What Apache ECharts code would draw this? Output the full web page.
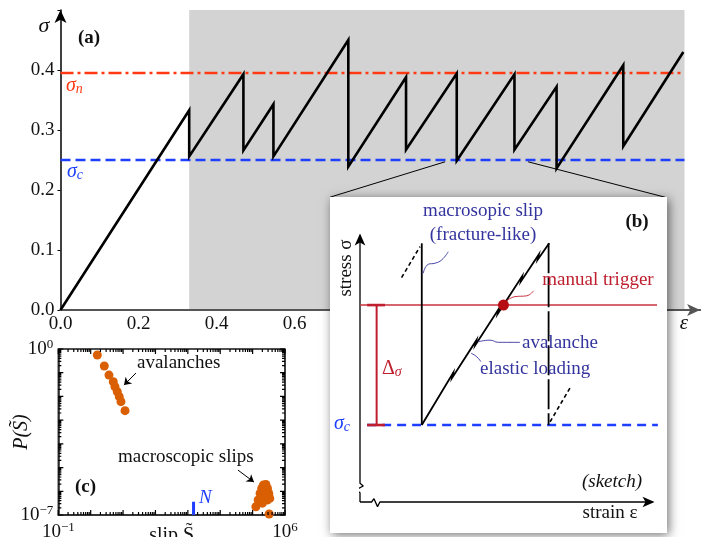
<!DOCTYPE html>
<html>
<head>
<meta charset="utf-8">
<script src="https://cdn.jsdelivr.net/npm/echarts@6/dist/echarts.min.js"></script>
<style>
html, body { margin: 0; padding: 0; background: #fff; }
#chart { width: 709px; height: 537px; }
</style>
</head>
<body>
<div id="chart"></div>
<script>
// ---------- (a) stress–strain curve under slow driving ----------
const strain = [0, 0.330, 0.330, 0.469, 0.469, 0.546, 0.546, 0.738, 0.738, 0.886, 0.886,
                1.016, 1.016, 1.164, 1.164, 1.272, 1.272, 1.443, 1.443, 1.597];
const stress = [0, 0.333, 0.256, 0.393, 0.266, 0.343, 0.256, 0.450, 0.239, 0.388, 0.267,
                0.394, 0.249, 0.393, 0.267, 0.372, 0.236, 0.408, 0.273, 0.430];
const sigmaN = 0.395;           // nucleation stress
const sigmaC = 0.25;            // critical (arrest) stress
const steadyRange = [0.33, 1.6];
const zoomWindow = [0.986, 1.199]; // part of the curve expanded in (b)

// ---------- (b) sketch, arbitrary units (strain 0–100, stress 0–100) ----------
const sketchStressAxis = [[0, 0], [0, 3.4], [-1.35, 4.4], [1.1, 5.9], [0, 6.9], [0, 98]];
const sketchStrainAxis = [[0, 0], [3.9, 0], [4.7, 1.2], [5.9, -1.7], [6.7, 0], [98.5, 0]];
const sketchLoading = [[20.8, 28.3], [31.37, 47.5], [31.0, 45.6], [39.2, 59.5], [38.8, 57.6],
                       [46.75, 71.0], [46.35, 69.1], [54.58, 83.0], [54.18, 81.1],
                       [60.21, 91.0], [59.81, 89.1], [63.7, 95.1]];
const sketchSlipA = [[20.8, 95.1], [20.8, 28.3]];
const sketchSlipB = [[63.5, 95.1], [63.5, 28.3]];
const sketchPreLoad = [[14.0, 82.5], [20.2, 93.9]];
const sketchPostLoad = [[64.0, 29.5], [70.7, 41.9]];
const sketchTrigger = 72.4;
const sketchCritical = 28.3;
const sketchTriggerPoint = [48.3, 72.4];
const bracketX = 5.6, bracketCap = [2.4, 8.4];
const leaderSlip = [[21.3, 84.1], [23.0, 87.4], [25.3, 87.8], [27.5, 89.0], [29.7, 92.0]];
const leaderTrigger = [[48.8, 73.4], [52.2, 75.5], [56.1, 75.8], [58.4, 77.6]];
const leaderAvalanche = [[39.8, 58.9], [43.8, 59.5], [46.6, 58.7], [53.9, 58.7]];
const leaderElastic = [[37.4, 54.7], [39.3, 53.4], [40.7, 51.6]];

// ---------- (c) slip size distribution ----------
const avalancheSlip = [1.60, 2.63, 3.67, 4.99, 5.62, 6.62, 7.64, 8.61, 11.5];
const avalancheProb = [0.558, 0.192, 0.0794, 0.0417, 0.0257, 0.0158, 0.00977, 0.00603, 0.00251];
const macroSlip = [1.26e5, 1.48e5, 1.70e5, 1.91e5, 2.14e5, 2.57e5, 2.88e5, 3.16e5, 3.39e5,
                   2.82e5, 2.40e5, 2.00e5, 2.29e5, 2.69e5, 3.24e5];
const macroProb = [2.24e-7, 4.27e-7, 8.13e-7, 1.32e-6, 1.82e-6, 1.95e-6, 1.32e-6, 8.13e-7, 5.01e-7,
                   4.27e-7, 4.57e-7, 3.16e-7, 1.0e-6, 7.9e-7, 1.10e-7];
const systemSizeN = 1500;
const slipDecades = [-1, 6];
const probDecades = [-7, 0];
const slipRange = [Math.pow(10, slipDecades[0]), Math.pow(10, slipDecades[1])];
const probRange = [Math.pow(10, probDecades[0]), Math.pow(10, probDecades[1])];

const SERIF = '"Liberation Serif", "DejaVu Serif", serif';
const RED = '#ff3a12', BLUE = '#1f3fff', ORANGE = '#d95f02';
const DARKRED = '#be1e2d', INDIGO = '#34349e';

const pairs = (xs, ys) => xs.map((x, i) => [x, ys[i]]);

// Inward decade / sub-decade ticks on all four edges of the (c) frame, as one broken
// polyline in data space; tick lengths are multiplicative steps along each log axis.
const stepAlongY = { major: 1.63, minor: 1.34 };
const stepAlongX = { major: 1.43, minor: 1.24 };
const frameTickPath = [];
for (let e = slipDecades[0]; e <= slipDecades[1]; e++) {
  for (let m = 1; m < 10; m++) {
    if (e === slipDecades[1] && m > 1) break;
    const v = m * Math.pow(10, e), f = m === 1 ? stepAlongY.major : stepAlongY.minor;
    frameTickPath.push([v, probRange[0]], [v, probRange[0] * f], [v, NaN]);
    frameTickPath.push([v, probRange[1]], [v, probRange[1] / f], [v, NaN]);
  }
}
for (let e = probDecades[0]; e <= probDecades[1]; e++) {
  for (let m = 1; m < 10; m++) {
    if (e === probDecades[1] && m > 1) break;
    const v = m * Math.pow(10, e), f = m === 1 ? stepAlongX.major : stepAlongX.minor;
    frameTickPath.push([slipRange[0], v], [slipRange[0] * f, v], [NaN, v]);
    frameTickPath.push([slipRange[1], v], [slipRange[1] / f, v], [NaN, v]);
  }
}

function powLabel(v, shown) {
  const e = Math.round(Math.log10(v));
  if (shown.indexOf(e) < 0) return '';
  return '{b|10}{e|' + (e < 0 ? '\u2212' + (-e) : e) + '}';
}
const powRich = {
  b: { fontFamily: SERIF, fontSize: 19, color: '#111', lineHeight: 22 },
  e: { fontFamily: SERIF, fontSize: 13, color: '#111', lineHeight: 12, verticalAlign: 'top' }
};

const sketchLine = (data, extra) => Object.assign({
  type: 'line', xAxisIndex: 2, yAxisIndex: 2, data: data, symbol: 'none', clip: false,
  z: 12, silent: true, lineStyle: { color: '#000', width: 1.8 }
}, extra || {});

const frameLine = (data, color, width) => ({
  type: 'line', xAxisIndex: 1, yAxisIndex: 1, data: data, symbol: 'none', clip: false,
  connectNulls: false, z: 6, silent: true, lineStyle: { color: color, width: width, opacity: 1 }
});

const txt = (x, y, text, opts) => ({
  type: 'text', x: x, y: y, z: (opts && opts.z) || 20, rotation: (opts && opts.rotation) || 0,
  style: Object.assign({
    text: text, fill: '#111', font: '19px ' + SERIF, align: 'center', verticalAlign: 'middle'
  }, (opts && opts.style) || {})
});

const option = {
  animation: false,
  backgroundColor: '#fff',
  grid: [
    { left: 60.5, top: 10, width: 639.6, height: 300, outerBoundsMode: 'none', containLabel: false },
    { left: 58.3, top: 349, width: 226.7, height: 166, outerBoundsMode: 'none', containLabel: false,
      show: true, borderColor: '#444', borderWidth: 1.6, backgroundColor: 'rgba(0,0,0,0)' },
    { left: 360, top: 230, width: 297, height: 272, outerBoundsMode: 'none', containLabel: false }
  ],
  xAxis: [
    {
      gridIndex: 0, type: 'value', min: 0, max: 1.64, interval: 0.2, z: 3,
      axisLine: { lineStyle: { color: '#555', width: 2.2 }, symbol: ['none', 'arrow'], symbolSize: [9, 13] },
      axisTick: { show: false }, splitLine: { show: false },
      axisLabel: { formatter: v => (v < 1.5 ? v.toFixed(1) : ''), color: '#111', fontFamily: SERIF, fontSize: 19, margin: 5 }
    },
    {
      gridIndex: 1, type: 'log', logBase: 10, min: slipRange[0], max: slipRange[1],
      axisLine: { show: true, onZero: false, lineStyle: { color: '#222', width: 1.5 } },
      axisTick: { show: false }, splitLine: { show: false },
      axisLabel: { formatter: v => powLabel(v, slipDecades), rich: powRich, margin: 6, showMinLabel: true, showMaxLabel: true },
      name: 'slip S\u0303', nameLocation: 'middle', nameGap: 11, nameMoveOverlap: false,
      nameTextStyle: { fontFamily: SERIF, fontSize: 20, color: '#111', verticalAlign: 'top' }
    },
    { gridIndex: 2, type: 'value', min: 0, max: 100, show: false }
  ],
  yAxis: [
    {
      gridIndex: 0, type: 'value', min: 0, max: 0.5, interval: 0.1,
      axisLine: { show: true, lineStyle: { color: '#000', width: 1.5 }, symbol: ['none', 'arrow'], symbolSize: [9, 13] },
      axisTick: { show: true, length: 3, lineStyle: { color: '#000' } }, splitLine: { show: false },
      axisLabel: { formatter: v => (v < 0.45 ? v.toFixed(1) : ''), color: '#111', fontFamily: SERIF, fontSize: 19, margin: 6 }
    },
    {
      gridIndex: 1, type: 'log', logBase: 10, min: probRange[0], max: probRange[1],
      axisLine: { show: true, onZero: false, lineStyle: { color: '#222', width: 1.5 } },
      axisTick: { show: false }, splitLine: { show: false },
      axisLabel: { formatter: v => powLabel(v, probDecades), rich: powRich, margin: 5, showMinLabel: true, showMaxLabel: true },
      name: 'P(S\u0303)', nameLocation: 'middle', nameGap: 27, nameMoveOverlap: false,
      nameTextStyle: { fontFamily: SERIF, fontSize: 20, color: '#111', fontStyle: 'italic' }
    },
    { gridIndex: 2, type: 'value', min: 0, max: 100, show: false }
  ],
  series: [
    // (a) shaded steady-state window
    {
      type: 'line', xAxisIndex: 0, yAxisIndex: 0, data: [], z: 1, silent: true,
      markArea: { silent: true, itemStyle: { color: '#d3d3d3' }, data: [[{ xAxis: steadyRange[0] }, { xAxis: steadyRange[1] }]] }
    },
    {
      type: 'line', xAxisIndex: 0, yAxisIndex: 0, symbol: 'none', silent: true, z: 2,
      data: [[0, sigmaN], [steadyRange[1], sigmaN]], lineStyle: { color: RED, width: 2.5, type: [13, 4, 3, 4] }
    },
    {
      type: 'line', xAxisIndex: 0, yAxisIndex: 0, symbol: 'none', silent: true, z: 2,
      data: [[0, sigmaC], [steadyRange[1], sigmaC]], lineStyle: { color: BLUE, width: 2.5, type: [10, 5] }
    },
    // connectors towards the inset
    {
      type: 'line', xAxisIndex: 0, yAxisIndex: 0, symbol: 'none', silent: true, z: 2,
      data: [[zoomWindow[0], 0.247], [0.691, 0.188]], lineStyle: { color: '#000', width: 1 }
    },
    {
      type: 'line', xAxisIndex: 0, yAxisIndex: 0, symbol: 'none', silent: true, z: 2,
      data: [[zoomWindow[1], 0.247], [1.55, 0.188]], lineStyle: { color: '#000', width: 1 }
    },
    {
      type: 'line', xAxisIndex: 0, yAxisIndex: 0, symbol: 'none', silent: true, z: 4,
      data: pairs(strain, stress), lineStyle: { color: '#000', width: 2.6, join: 'miter' }
    },

    // (c) frame: closing top / right edges and inward ticks
    frameLine([[slipRange[0], probRange[1]], [slipRange[1], probRange[1]]], '#444', 1.6),
    frameLine([[slipRange[1], probRange[1]], [slipRange[1], probRange[0]]], '#333', 1.6),
    frameLine(frameTickPath, '#000', 1.2),

    // (c) slip distribution
    {
      type: 'scatter', xAxisIndex: 1, yAxisIndex: 1, data: pairs(avalancheSlip, avalancheProb),
      symbol: 'circle', symbolSize: 9, itemStyle: { color: ORANGE, opacity: 1 }, z: 4, silent: true
    },
    {
      type: 'scatter', xAxisIndex: 1, yAxisIndex: 1, data: pairs(macroSlip, macroProb), clip: true,
      symbol: 'circle', symbolSize: 9, itemStyle: { color: ORANGE, opacity: 1 }, z: 4, silent: true
    },
    {
      type: 'line', xAxisIndex: 1, yAxisIndex: 1, symbol: 'none', silent: true, z: 5,
      data: [[systemSizeN, probRange[0]], [systemSizeN, 3.6e-7]], lineStyle: { color: BLUE, width: 3 }
    },
    {
      type: 'lines', coordinateSystem: 'cartesian2d', xAxisIndex: 1, yAxisIndex: 1, silent: true, z: 5,
      symbol: ['none', 'arrow'], symbolSize: 7,
      lineStyle: { color: '#000', width: 1, opacity: 1 },
      data: [
        { coords: [[25.0, 0.097], [10.7, 0.030]] },
        { coords: [[35200, 7.85e-6], [1.1e5, 2.45e-6]] }
      ]
    },

    // (b) sketch of the loading cycle
    sketchLine(sketchStressAxis.map((p, i, a) => i === a.length - 1
      ? { value: p, symbol: 'arrow', symbolSize: [8, 12], symbolOffset: [0, -2] } : p),
      { symbol: 'none', showSymbol: true, showAllSymbol: true, itemStyle: { color: '#000' }, lineStyle: { color: '#000', width: 1.3 } }),
    sketchLine(sketchStrainAxis.map((p, i, a) => i === a.length - 1
      ? { value: p, symbol: 'arrow', symbolSize: [8, 12], symbolRotate: -90, symbolOffset: [2, 0] } : p),
      { symbol: 'none', showSymbol: true, showAllSymbol: true, itemStyle: { color: '#000' }, lineStyle: { color: '#000', width: 1.3 } }),
    sketchLine([[0, sketchTrigger], [100, sketchTrigger]], { lineStyle: { color: '#c8323c', width: 1.4 } }),
    sketchLine([[2.4, sketchCritical], [100.3, sketchCritical]], { lineStyle: { color: BLUE, width: 2.6, type: [9, 6] } }),
    sketchLine([[bracketX, sketchCritical], [bracketX, sketchTrigger]], { lineStyle: { color: DARKRED, width: 2 } }),
    sketchLine([[bracketCap[0], sketchTrigger], [bracketCap[1], sketchTrigger]], { lineStyle: { color: DARKRED, width: 2.6 } }),
    sketchLine([[bracketCap[0], sketchCritical], [bracketCap[1], sketchCritical]], { lineStyle: { color: DARKRED, width: 2.6 } }),
    sketchLine(sketchSlipA),
    sketchLine(sketchLoading, { lineStyle: { color: '#000', width: 1.8, join: 'miter' } }),
    sketchLine(sketchSlipB, { lineStyle: { color: '#000', width: 1.8, type: [30, 4] } }),
    sketchLine(sketchPreLoad, { lineStyle: { color: '#000', width: 1.6, type: [4, 3] } }),
    sketchLine(sketchPostLoad, { lineStyle: { color: '#000', width: 1.6, type: [4, 3] } }),
    sketchLine(leaderSlip, { smooth: true, lineStyle: { color: INDIGO, width: 0.9 } }),
    sketchLine(leaderTrigger, { smooth: true, lineStyle: { color: DARKRED, width: 0.9 } }),
    sketchLine(leaderAvalanche, { smooth: true, lineStyle: { color: INDIGO, width: 0.9 } }),
    sketchLine(leaderElastic, { smooth: true, lineStyle: { color: INDIGO, width: 0.9 } }),
    {
      type: 'scatter', xAxisIndex: 2, yAxisIndex: 2, data: [sketchTriggerPoint], z: 13, silent: true,
      symbol: 'circle', symbolSize: 11, itemStyle: { color: '#b50d12', opacity: 1 }
    }
  ],
  graphic: [
    // inset frame for (b)
    {
      type: 'rect', z: 10, silent: true,
      shape: { x: 330, y: 197, width: 337, height: 336 },
      style: { fill: '#fff', shadowBlur: 10, shadowColor: 'rgba(0,0,0,0.55)', shadowOffsetX: 2, shadowOffsetY: 2 }
    },
    // (a) annotations
    txt(44, 26, '\u03c3', { style: { font: 'italic 22px ' + SERIF } }),
    txt(89, 38, '(a)', { style: { font: 'bold 19px ' + SERIF } }),
    txt(66, 86, '{s|\u03c3}{i|n}', { style: { align: 'left', fill: RED, rich: {
      s: { fontFamily: SERIF, fontStyle: 'italic', fontSize: 20, fill: RED, lineHeight: 20 },
      i: { fontFamily: SERIF, fontStyle: 'italic', fontSize: 14, fill: RED, lineHeight: 14, verticalAlign: 'bottom' } } } }),
    txt(67, 172, '{s|\u03c3}{i|c}', { style: { align: 'left', fill: BLUE, rich: {
      s: { fontFamily: SERIF, fontStyle: 'italic', fontSize: 20, fill: BLUE, lineHeight: 20 },
      i: { fontFamily: SERIF, fontStyle: 'italic', fontSize: 14, fill: BLUE, lineHeight: 14, verticalAlign: 'bottom' } } } }),
    txt(684, 323, '\u03b5', { style: { font: 'italic 21px ' + SERIF } }),

    // (b) annotations
    txt(483, 211, 'macrosopic slip', { style: { fill: INDIGO } }),
    txt(483, 235, '(fracture-like)', { style: { fill: INDIGO } }),
    txt(637, 222, '(b)', { style: { font: 'bold 19px ' + SERIF } }),
    txt(346, 268, 'stress \u03c3', { rotation: Math.PI / 2 }),
    txt(598, 280, 'manual trigger', { style: { fill: DARKRED } }),
    txt(522, 343, 'avalanche', { style: { fill: INDIGO, align: 'left' } }),
    txt(480, 369, 'elastic loading', { style: { fill: INDIGO, align: 'left' } }),
    txt(382, 369, '{d|\u0394}{s|\u03c3}', { style: { align: 'left', fill: DARKRED, rich: {
      d: { fontFamily: SERIF, fontSize: 20, fill: DARKRED, lineHeight: 20 },
      s: { fontFamily: SERIF, fontStyle: 'italic', fontSize: 14, fill: DARKRED, lineHeight: 14, verticalAlign: 'bottom' } } } }),
    txt(334, 424, '{s|\u03c3}{i|c}', { style: { align: 'left', fill: BLUE, rich: {
      s: { fontFamily: SERIF, fontStyle: 'italic', fontSize: 20, fill: BLUE, lineHeight: 20 },
      i: { fontFamily: SERIF, fontStyle: 'italic', fontSize: 14, fill: BLUE, lineHeight: 14, verticalAlign: 'bottom' } } } }),
    txt(612, 482, '(sketch)', { style: { font: 'italic 19px ' + SERIF } }),
    txt(610, 513, 'strain \u03b5', {}),

    // (c) annotations
    txt(137, 363, 'avalanches', { style: { align: 'left' } }),
    txt(118, 457, 'macroscopic slips', { style: { align: 'left' } }),
    txt(75, 487, '(c)', { style: { align: 'left', font: 'bold 19px ' + SERIF } }),
    txt(199, 498, 'N', { style: { align: 'left', fill: BLUE, font: 'italic 19px ' + SERIF } })
  ]
};

const chart = echarts.init(document.getElementById('chart'), null, { renderer: 'canvas' });
chart.setOption(option);
</script>
</body>
</html>
